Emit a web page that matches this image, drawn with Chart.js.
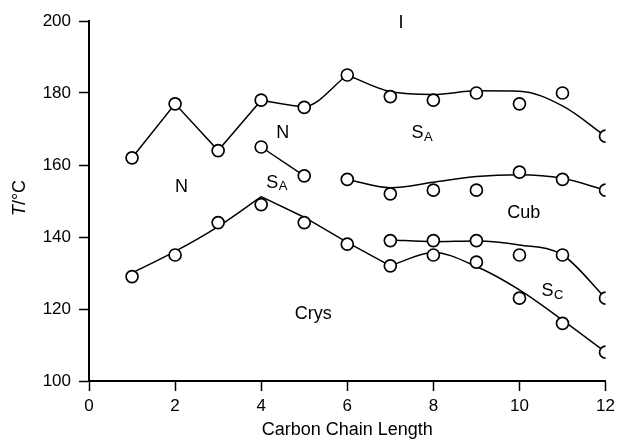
<!DOCTYPE html>
<html><head><meta charset="utf-8">
<script src="https://cdn.jsdelivr.net/npm/chart.js@4/dist/chart.umd.min.js"></script>
<style>html,body{margin:0;padding:0;background:#fff}</style>
</head><body>
<canvas id="c" width="620" height="439"></canvas>
<script>
// ---- measured transition temperatures (markers) ----
const clearingX = [1,2,3,4,5,6,7,8,9,10,11,12];
const clearingT = [162,177,164,178,176,185,179,178,180,177,180,168];
const smecticAX = [4,5,6,7,8,9,10,11,12];
const smecticAT = [165,157,156,152,153,153,158,156,153];
const cubicX = [7,8,9,10,11,12];
const cubicT = [139,139,139,135,135,123];
const meltX = [1,2,3,4,5,6,7,8,9,10,11,12];
const meltT = [129,135,144,149,144,138,132,135,133,123,116,108];

// ---- guide lines ----
const niLineX = [1,2,3,4];            const niLineT = [162,177,164,178];
const topAX = [4,5,6];                const topAT = [178,176.3,185];
const topBX = [6,7,8,9,10,11,12];     const topBT = [185,180.4,179.6,180.6,180.5,176.4,168];
const saLineX = [4,5];                const saLineT = [165,157];
const cubLineX = [6,7,8,9,10,11,12];  const cubLineT = [156,153.7,155.2,156.8,157.3,156.3,153];
const crysAX = [1,2,3,4];             const crysAT = [130,136,142.9,151.2];
const crysBX = [4,5,6,7];             const crysBT = [151.2,145.5,138.5,132];
const scLineX = [7,8,9,10,11,12];     const scLineT = [139.2,138.7,138.9,137.8,135,123];
const crysCX = [7,8,9,10,11,12];      const crysCT = [132,135.7,131.8,125.3,116.9,108];

// ---- axis ticks ----
const xTicks = [0,2,4,6,8,10,12];
const yTicks = [100,120,140,160,180,200];

// ---- phase labels ----
const phaseText = ['I','N','N','Cub','Crys'];
const phaseX = [7.25,2.15,4.5,10.1,5.21];
const phaseY = [199.3,154,168.8,146.7,118.6];
const subMain = ['S','S','S'];
const subText = ['A','A','C'];
const subX = [4.36,7.73,10.76];
const subY = [155.1,168.8,124.9];

const FONT = "'Liberation Sans', Arial, Helvetica, sans-serif";
const pts = (xs, ys) => xs.map((x, i) => ({x: x, y: ys[i]}));

function marker(xs, ys) {
  return {data: pts(xs, ys), showLine: false, pointRadius: 6, pointHoverRadius: 6,
    pointBorderWidth: 1.7, pointBorderColor: '#000', pointBackgroundColor: '#fff', order: 0};
}
function line(xs, ys, smooth) {
  const d = {data: pts(xs, ys), showLine: true, pointRadius: 0, pointHoverRadius: 0,
    borderColor: '#000', borderWidth: 1.5, fill: false, order: 1};
  if (smooth) d.cubicInterpolationMode = 'monotone'; else d.tension = 0;
  return d;
}

const labelPlugin = {
  id: 'labels',
  afterDraw(chart) {
    const ctx = chart.ctx, sx = chart.scales.x, sy = chart.scales.y;
    ctx.save();
    ctx.fillStyle = '#000';
    ctx.textBaseline = 'middle';
    ctx.textAlign = 'center';
    ctx.font = '18px ' + FONT;
    phaseText.forEach((t, i) => ctx.fillText(t, sx.getPixelForValue(phaseX[i]), sy.getPixelForValue(phaseY[i])));
    subMain.forEach((m, i) => {
      ctx.font = '18px ' + FONT;
      const w1 = ctx.measureText(m).width;
      ctx.font = '13px ' + FONT;
      const w2 = ctx.measureText(subText[i]).width;
      const cx = sx.getPixelForValue(subX[i]), cy = sy.getPixelForValue(subY[i]);
      const x0 = cx - (w1 + w2) / 2;
      ctx.textAlign = 'left';
      ctx.font = '18px ' + FONT;
      ctx.fillText(m, x0, cy);
      ctx.font = '13px ' + FONT;
      ctx.fillText(subText[i], x0 + w1 + 0.5, cy + 4);
      ctx.textAlign = 'center';
    });
    // y-axis title: italic T + /°C
    ctx.translate(20, (chart.chartArea.top + chart.chartArea.bottom) / 2 - 3);
    ctx.rotate(-Math.PI / 2);
    ctx.font = 'italic 18px ' + FONT;
    const wT = ctx.measureText('T').width;
    ctx.font = '18px ' + FONT;
    const wR = ctx.measureText('/°C').width;
    const start = -(wT + wR) / 2;
    ctx.textAlign = 'left';
    ctx.font = 'italic 18px ' + FONT;
    ctx.fillText('T', start, 0);
    ctx.font = '18px ' + FONT;
    ctx.fillText('/°C', start + wT, 0);
    ctx.restore();
  }
};

new Chart(document.getElementById('c'), {
  type: 'scatter',
  data: {
    datasets: [
      marker(clearingX, clearingT),
      marker(smecticAX, smecticAT),
      marker(cubicX, cubicT),
      marker(meltX, meltT),
      line(niLineX, niLineT, false),
      line(topAX, topAT, true),
      line(topBX, topBT, true),
      line(saLineX, saLineT, false),
      line(cubLineX, cubLineT, true),
      line(crysAX, crysAT, true),
      line(crysBX, crysBT, false),
      line(scLineX, scLineT, true),
      line(crysCX, crysCT, true)
    ]
  },
  options: {
    responsive: false,
    animation: false,
    devicePixelRatio: 1,
    layout: {padding: {top: 21, right: 13, left: 0, bottom: 0}},
    plugins: {legend: {display: false}, tooltip: {enabled: false}},
    scales: {
      x: {
        type: 'linear', min: 0, max: 12,
        afterBuildTicks: s => { s.ticks = xTicks.map(v => ({value: v})); },
        afterFit: s => { s.height = 58; },
        ticks: {color: '#000', font: {size: 17, family: FONT}, padding: 5, maxRotation: 0},
        grid: {drawOnChartArea: false, drawTicks: true, tickLength: 10, tickColor: '#000', tickWidth: 1.5},
        border: {display: true, color: '#000', width: 2},
        title: {display: true, text: 'Carbon Chain Length', color: '#000', font: {size: 18, family: FONT}, padding: {top: 0, bottom: -2}}
      },
      y: {
        type: 'linear', min: 100, max: 200,
        afterBuildTicks: s => { s.ticks = yTicks.map(v => ({value: v})); },
        afterFit: s => { s.width = 89; },
        ticks: {color: '#000', font: {size: 17, family: FONT}, padding: 8},
        grid: {drawOnChartArea: false, drawTicks: true, tickLength: 10, tickColor: '#000', tickWidth: 1.5},
        border: {display: true, color: '#000', width: 2}
      }
    }
  },
  plugins: [labelPlugin]
});
</script>
</body></html>
